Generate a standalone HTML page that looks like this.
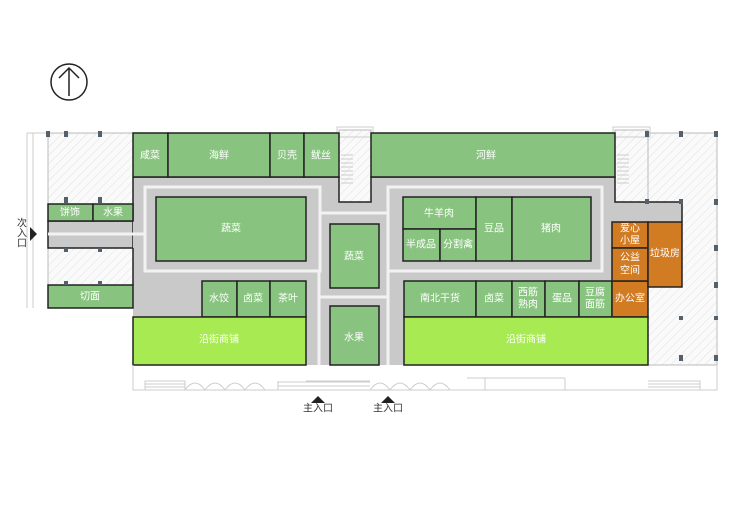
<!DOCTYPE html>
<html><head><meta charset="utf-8"><style>
html,body{margin:0;padding:0;background:#fff;}
svg{display:block;}
text{font-family:"Liberation Sans","Noto Sans CJK SC",sans-serif;fill:#fff;text-anchor:middle;dominant-baseline:central;font-size:10px;}
.g{fill:#88c47f;stroke:#222;stroke-width:1.5;}
.l{fill:#a8ea52;stroke:#222;stroke-width:1.5;}
.o{fill:#d17b22;stroke:#222;stroke-width:1.5;}
.h{fill:url(#hatch);stroke:#bbb;stroke-width:1;}
.w{stroke:#f2f2f2;stroke-width:3;fill:none;}
.t{fill:#333;}
.f{stroke:#ccc;stroke-width:1;fill:none;}
.c{fill:#56606a;}
</style></head><body>
<svg width="750" height="530" viewBox="0 0 750 530">
<defs>
<pattern id="hatch" width="6" height="6" patternUnits="userSpaceOnUse" patternTransform="rotate(45)">
<rect width="6" height="6" fill="#fafafa"/><line x1="0" y1="0" x2="0" y2="6" stroke="#e2e2e2" stroke-width="1"/>
</pattern>
</defs>
<!-- north arrow -->
<circle cx="69" cy="82" r="18" fill="none" stroke="#222" stroke-width="1.5"/>
<line x1="69" y1="96" x2="69" y2="69" stroke="#222" stroke-width="1.5"/>
<polyline points="59,78 69,68 79,78" fill="none" stroke="#222" stroke-width="1.5"/>

<!-- outer lines left -->
<line x1="27" y1="133" x2="27" y2="308" class="f"/>
<line x1="33" y1="133" x2="33" y2="308" class="f"/>
<line x1="27" y1="133" x2="48" y2="133" class="f"/>
<!-- left hatched -->
<rect x="48" y="133" width="85" height="71" class="h"/>
<rect x="48" y="248" width="85" height="37" class="h"/>
<!-- right hatched -->
<rect x="648" y="133" width="69" height="232" class="h"/>
<rect x="615" y="130" width="33" height="72" class="h"/>
<rect x="339" y="130" width="32" height="72" class="h"/>
<g class="f">
<rect x="613" y="127" width="37" height="10"/>
<rect x="337" y="127" width="36" height="10"/>
<path d="M617 155h12M617 159h12M617 163h12M617 167h12M617 171h12M617 175h12M617 179h12M617 183h12"/>
<path d="M341 155h12M341 159h12M341 163h12M341 167h12M341 171h12M341 175h12M341 179h12M341 183h12"/>
</g>

<!-- gray corridor -->
<path d="M133 177 H339 V202 H371 V177 H615 V202 H682 V222 H612 V317 H133 Z" fill="#c9c9c9"/>
<rect x="48" y="221" width="85" height="27" fill="#c9c9c9" stroke="#222" stroke-width="1.5"/>
<rect x="306" y="300" width="98" height="65" fill="#c9c9c9"/>
<rect x="133" y="177" width="70" height="140" fill="#c9c9c9"/>
<!-- white lines -->
<rect x="145" y="187" width="175" height="84" class="w"/>
<rect x="388" y="187" width="214" height="84" class="w"/>
<line x1="48" y1="234" x2="145" y2="234" class="w"/>
<line x1="319" y1="271" x2="319" y2="365" class="w"/>
<line x1="388" y1="271" x2="388" y2="365" class="w"/>
<line x1="320" y1="213" x2="388" y2="213" class="w"/>
<line x1="320" y1="297" x2="388" y2="297" class="w"/>
<path d="M133 177 H339 V202 H371 V177 H615 V202 H682 V222" fill="none" stroke="#222" stroke-width="1.5"/>
<line x1="133" y1="177" x2="133" y2="221" stroke="#222" stroke-width="1.5"/>
<line x1="133" y1="248" x2="133" y2="285" stroke="#222" stroke-width="1.5"/>

<!-- top row -->
<rect x="133" y="133" width="35" height="44" class="g"/><text x="150" y="156">咸菜</text>
<rect x="168" y="133" width="102" height="44" class="g"/><text x="219" y="156">海鲜</text>
<rect x="270" y="133" width="34" height="44" class="g"/><text x="287" y="156">贝壳</text>
<rect x="304" y="133" width="35" height="44" class="g"/><text x="321" y="156">鱿丝</text>
<rect x="371" y="133" width="244" height="44" class="g"/><text x="486" y="156">河鲜</text>

<!-- left wing -->
<rect x="48" y="204" width="45" height="17" class="g"/><text x="70" y="213">饼饰</text>
<rect x="93" y="204" width="40" height="17" class="g"/><text x="113" y="213">水果</text>
<rect x="48" y="285" width="85" height="23" class="g"/><text x="90" y="297">切面</text>

<!-- center -->
<rect x="156" y="197" width="150" height="64" class="g"/><text x="231" y="229">蔬菜</text>
<rect x="330" y="224" width="49" height="64" class="g"/><text x="354" y="257">蔬菜</text>
<rect x="330" y="306" width="49" height="59" class="g"/><text x="354" y="338">水果</text>
<rect x="202" y="281" width="35" height="36" class="g"/><text x="219" y="299">水饺</text>
<rect x="237" y="281" width="33" height="36" class="g"/><text x="253" y="299">卤菜</text>
<rect x="270" y="281" width="36" height="36" class="g"/><text x="288" y="299">茶叶</text>
<rect x="133" y="317" width="173" height="48" class="l"/><text x="219" y="340">沿街商铺</text>

<!-- right block -->
<rect x="403" y="197" width="73" height="32" class="g"/><text x="439" y="214">牛羊肉</text>
<rect x="403" y="229" width="37" height="32" class="g"/><text x="421" y="245" font-size="9">半成品</text>
<rect x="440" y="229" width="36" height="32" class="g"/><text x="458" y="245" font-size="9">分割禽</text>
<rect x="476" y="197" width="36" height="64" class="g"/><text x="494" y="229">豆品</text>
<rect x="512" y="197" width="79" height="64" class="g"/><text x="551" y="229">猪肉</text>

<rect x="404" y="281" width="72" height="36" class="g"/><text x="440" y="299">南北干货</text>
<rect x="476" y="281" width="36" height="36" class="g"/><text x="494" y="299">卤菜</text>
<rect x="512" y="281" width="33" height="36" class="g"/><text x="528" y="293" font-size="9">西筋</text><text x="528" y="305" font-size="9">熟肉</text>
<rect x="545" y="281" width="34" height="36" class="g"/><text x="562" y="299">蛋品</text>
<rect x="579" y="281" width="33" height="36" class="g"/><text x="595" y="293" font-size="9">豆腐</text><text x="595" y="305" font-size="9">面筋</text>
<rect x="612" y="281" width="36" height="36" class="o"/><text x="630" y="299">办公室</text>
<rect x="612" y="222" width="36" height="26" class="o"/><text x="630" y="229" font-size="9">爱心</text><text x="630" y="241" font-size="9">小屋</text>
<rect x="612" y="248" width="36" height="33" class="o"/><text x="630" y="258" font-size="9">公益</text><text x="630" y="271" font-size="9">空间</text>
<rect x="648" y="222" width="34" height="65" class="o"/><text x="665" y="254">垃圾房</text>
<rect x="404" y="317" width="244" height="48" class="l"/><text x="526" y="340">沿街商铺</text>

<!-- columns -->
<g class="c">
<rect x="46" y="131" width="4" height="6"/><rect x="64" y="131" width="4" height="6"/><rect x="98" y="131" width="4" height="6"/>
<rect x="64" y="197" width="4" height="6"/><rect x="98" y="197" width="4" height="6"/>
<rect x="64" y="248" width="4" height="4"/><rect x="98" y="248" width="4" height="4"/>
<rect x="64" y="281" width="4" height="4"/><rect x="98" y="281" width="4" height="4"/>
<rect x="645" y="131" width="4" height="6"/><rect x="679" y="131" width="4" height="6"/><rect x="714" y="131" width="4" height="6"/>
<rect x="645" y="199" width="4" height="5"/><rect x="679" y="199" width="4" height="5"/><rect x="714" y="199" width="4" height="6"/>
<rect x="714" y="245" width="4" height="6"/><rect x="714" y="282" width="4" height="6"/>
<rect x="679" y="316" width="4" height="4"/><rect x="714" y="316" width="4" height="4"/>
<rect x="679" y="355" width="4" height="6"/><rect x="714" y="355" width="4" height="6"/>
</g>

<!-- facade -->
<g class="f">
<path d="M133 365 V390 H717 V365"/>
<path d="M145 390 V381 H185 V390 M145 384 H185 M145 387 H185"/>
<path d="M185 390 q10-14 20 0 q10-14 20 0 q10-14 20 0 q10-14 20 0"/>
<path d="M278 381 V390 M278 382 H370 M278 386 H370 M306 381 H370"/>
<path d="M370 390 q10-14 20 0 q10-14 20 0 q10-14 20 0 q10-14 20 0"/>
<path d="M467 378 H565 M485 378 V390 M565 378 V390"/>
<path d="M648 381 H700 V390 M648 384 H700 M648 387 H700"/>
</g>

<!-- entrances -->
<polygon points="311,403 325,403 318,396" fill="#222"/>
<text x="318" y="409" class="t" font-size="8">主入口</text>
<polygon points="381,403 395,403 388,396" fill="#222"/>
<text x="388" y="409" class="t" font-size="8">主入口</text>
<polygon points="30,227 30,241 37,234" fill="#222"/>
<text x="22" y="224" class="t" font-size="8">次</text>
<text x="22" y="234" class="t" font-size="8">入</text>
<text x="22" y="244" class="t" font-size="8">口</text>
</svg>
</body></html>
